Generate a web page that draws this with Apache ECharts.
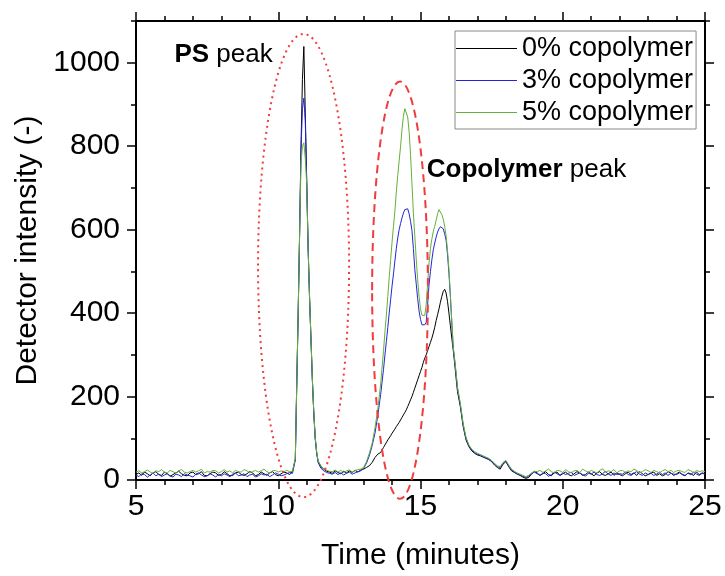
<!DOCTYPE html>
<html>
<head>
<meta charset="utf-8">
<script src="https://cdn.jsdelivr.net/npm/echarts@6/dist/echarts.min.js"></script>
<style>html,body{margin:0;padding:0;background:#fff}#chart{width:725px;height:576px}</style>
</head>
<body>
<div id="chart"></div>
<script>
// ---- data (time in minutes, detector intensity) ----
const times = [
  5,5.1,5.2,5.3,5.4,5.5,5.6,5.7,5.8,5.9,6,6.1,6.2,6.3,6.4,6.5,6.6,6.7,6.8,6.9,
  7,7.1,7.2,7.3,7.4,7.5,7.6,7.7,7.8,7.9,8,8.1,8.2,8.3,8.4,8.5,8.6,8.7,8.8,8.9,
  9,9.1,9.2,9.3,9.4,9.5,9.6,9.7,9.8,9.9,10,10.1,10.2,10.3,10.4,10.5,
  10.55,10.6,10.65,10.7,10.75,10.8,10.85,10.9,10.95,11,11.05,11.1,11.15,11.2,11.25,11.3,11.35,11.4,
  11.5,11.6,11.7,11.8,11.9,12,12.1,12.2,12.3,12.4,12.5,12.6,12.7,12.8,12.9,13,13.1,13.2,13.3,13.4,13.5,13.6,13.7,
  13.75,13.8,13.85,13.9,13.95,14,14.05,14.1,14.15,14.2,14.25,14.3,14.35,14.4,14.45,14.5,14.55,14.6,14.65,14.7,
  14.75,14.8,14.85,14.9,14.95,15,15.05,15.1,15.15,15.2,15.25,15.3,15.35,15.4,15.45,15.5,15.55,15.6,15.65,15.7,
  15.75,15.8,15.85,15.9,15.95,16,16.05,16.1,16.15,16.2,16.25,16.3,
  16.4,16.5,16.6,16.7,16.8,16.9,17,17.1,17.2,17.3,17.4,17.5,17.6,17.7,17.8,17.9,18,18.1,18.2,18.3,
  18.4,18.5,18.6,18.7,18.8,18.9,19,
  19.1,19.2,19.3,19.4,19.5,19.6,19.7,19.8,19.9,20,20.1,20.2,20.3,20.4,20.5,20.6,20.7,20.8,20.9,21,
  21.1,21.2,21.3,21.4,21.5,21.6,21.7,21.8,21.9,22,22.1,22.2,22.3,22.4,22.5,22.6,22.7,22.8,22.9,23,
  23.1,23.2,23.3,23.4,23.5,23.6,23.7,23.8,23.9,24,24.1,24.2,24.3,24.4,24.5,24.6,24.7,24.8,24.9,25
];
const copolymer0 = [
  13,17,11,19,15,10,17,20,13,11,19,15,9,13,17,21,15,11,10,17,
  19,13,15,20,11,10,15,19,17,11,13,20,15,10,11,17,19,13,11,15,
  20,17,10,13,19,15,11,17,20,13,10,15,19,17,13,20,
  22,50,230,400,590,800,960,1039,880,720,560,440,340,240,160,100,66,45,
  32,26,21,19,16,22,18,15,21,17,22,18,23,19,24,26,30,34,42,54,62,66,78,
  84,88,96,100,106,112,116,122,128,132,138,144,150,156,162,168,176,184,192,200,
  210,220,230,240,250,260,270,282,292,300,310,320,330,340,352,366,382,396,410,426,
  440,452,457,448,428,400,370,340,312,280,245,212,
  176,128,96,80,70,64,60,58,55,52,49,44,36,30,26,38,44,32,22,18,
  14,11,7,4,6,14,20,
  17,11,15,20,13,10,17,19,11,15,19,13,10,15,20,17,11,13,19,15,
  10,17,20,13,11,15,19,11,17,13,10,15,19,13,17,11,20,15,10,13,
  17,19,11,15,10,13,20,17,11,15,19,13,10,17,15,11,19,13,17,15
];
const copolymer3 = [
  12,8,15,13,7,12,17,10,14,8,12,15,10,7,14,12,8,15,12,10,
  7,14,17,12,8,10,15,12,7,14,10,15,12,8,14,17,10,12,15,8,
  12,14,7,10,15,12,14,8,12,17,14,10,12,15,18,16,
  20,48,225,395,585,790,890,915,860,715,555,435,338,238,158,98,64,42,
  28,22,18,16,14,18,13,17,12,16,19,14,17,20,22,28,40,58,82,112,155,205,265,
  300,332,365,400,432,465,494,525,555,580,600,615,628,640,648,652,650,638,620,598,
  555,505,470,435,405,385,372,370,372,378,420,468,500,528,552,568,582,594,602,607,
  608,602,590,575,540,495,440,378,318,288,255,220,
  180,132,100,82,72,66,62,60,56,53,50,45,38,32,30,40,46,34,24,19,
  15,12,9,6,9,15,19,
  15,11,17,15,9,13,19,15,11,17,13,16,19,11,14,17,13,9,16,14,
  19,13,11,15,21,14,11,17,13,15,14,19,13,11,16,20,14,11,17,13,
  16,11,14,19,13,17,11,16,14,13,17,14,11,16,13,19,14,11,16,14
];
const copolymer5 = [
  19,22,17,20,24,19,16,22,20,25,19,17,23,20,16,22,25,19,17,20,
  23,19,22,26,17,20,19,23,22,17,20,25,19,22,17,23,20,19,25,22,
  17,20,23,19,22,26,20,17,22,23,19,22,20,23,20,21,
  24,52,228,398,585,760,800,808,770,710,555,438,340,242,162,102,68,46,
  34,27,23,21,20,24,19,23,18,22,24,19,23,25,26,30,44,64,88,125,170,230,310,
  355,395,440,485,528,570,608,645,690,730,765,800,840,872,890,888,870,835,780,710,
  640,585,530,480,440,410,395,392,394,420,470,520,555,578,596,608,622,638,648,645,
  636,625,608,585,550,505,445,380,320,290,258,222,
  184,135,102,84,74,68,64,61,58,55,52,47,40,34,32,42,47,36,26,21,
  17,14,11,8,11,17,21,
  20,23,18,22,26,20,17,23,22,18,25,20,17,22,23,18,26,22,18,23,
  20,17,23,27,18,22,20,25,17,22,23,18,22,20,26,23,17,20,25,22,
  18,23,20,17,22,25,20,23,18,22,23,20,18,25,22,17,23,20,22,20
];
const seriesNames = ['0% copolymer', '3% copolymer', '5% copolymer'];
const xTickLabels = [5, 10, 15, 20, 25];
const yMajorTicks = [0, 200, 400, 600, 800, 1000];
const yMinorTicks = [100, 300, 500, 700, 900, 1100];

// ---- chart ----
const FONT = 'Liberation Sans, Arial, sans-serif';
const chart = echarts.init(document.getElementById('chart'), null, {renderer: 'canvas'});
const pairs = vals => times.map((t, i) => [t, vals[i]]);
const colors = ['#000000', '#2424dc', '#62b236'];
const allValues = [copolymer0, copolymer3, copolymer5];

function yAx(pos, major, labels) {
  return {
    type: 'value', min: 0, max: 1100, position: pos,
    axisLine: {show: major, lineStyle: {color: '#000', width: 2}},
    axisTick: {show: true, inside: false, length: major ? 9 : 5,
      customValues: major ? yMajorTicks : yMinorTicks,
      lineStyle: {color: '#000', width: 1.5}},
    axisLabel: {show: labels, customValues: yMajorTicks, fontSize: 30, color: '#000', fontFamily: FONT, margin: 16,
      formatter: v => String(v)},
    splitLine: {show: false},
    name: labels ? 'Detector intensity (-)' : '',
    nameLocation: 'middle', nameGap: 81, nameRotate: 90,
    nameTextStyle: {fontSize: 30, color: '#000', fontFamily: FONT}
  };
}
function xAx(pos, labels) {
  return {
    type: 'value', min: 5, max: 25, interval: 5, position: pos,
    axisLine: {show: true, onZero: false, lineStyle: {color: '#000', width: 2}},
    axisTick: {show: true, inside: false, length: 9, lineStyle: {color: '#000', width: 1.5}},
    minorTick: {show: true, splitNumber: 5, length: 5, lineStyle: {color: '#000', width: 1.5}},
    axisLabel: {show: labels, fontSize: 30, color: '#000', fontFamily: FONT, margin: 12,
      formatter: v => (xTickLabels.indexOf(v) >= 0 ? String(v) : '')},
    splitLine: {show: false}, minorSplitLine: {show: false},
    name: labels ? 'Time (minutes)' : '',
    nameLocation: 'middle', nameGap: 61,
    nameTextStyle: {fontSize: 30, color: '#000', fontFamily: FONT}
  };
}

chart.setOption({
  animation: false,
  backgroundColor: '#fff',
  grid: {left: 136, right: 20, top: 21, bottom: 95, containLabel: false},
  xAxis: [xAx('bottom', true), xAx('top', false)],
  yAxis: [yAx('left', true, true), yAx('left', false, false), yAx('right', true, false), yAx('right', false, false)],
  legend: {
    data: seriesNames, orient: 'vertical', left: 455, top: 31,
    icon: 'rect', itemWidth: 61, itemHeight: 1, itemGap: 5,
    borderColor: '#8a8a8a', borderWidth: 1, backgroundColor: '#fff',
    padding: [4, 3, 3, 1],
    textStyle: {fontSize: 27, color: '#000', fontFamily: FONT, lineHeight: 27},
    selectedMode: false
  },
  series: seriesNames.map((n, k) => ({
    name: n, type: 'line', xAxisIndex: 0, yAxisIndex: 0,
    data: pairs(allValues[k]), showSymbol: false, symbol: 'none',
    color: colors[k], lineStyle: {color: colors[k], width: 1},
    z: 2 + k, silent: true
  }))
});

// ---- annotations, anchored in data coordinates ----
const px = (t, v) => chart.convertToPixel({xAxisIndex: 0, yAxisIndex: 0}, [t, v]);
function ellipse(t, v, rt, rv, dash) {
  const c = px(t, v), e = px(t + rt, v + rv);
  return {type: 'ellipse', z: 50,
    shape: {cx: c[0], cy: c[1], rx: Math.abs(e[0] - c[0]), ry: Math.abs(c[1] - e[1])},
    style: {fill: 'none', stroke: '#f03c3c', lineWidth: 2, lineDash: dash}};
}
function label(t, v, txt) {
  const p = px(t, v);
  return {type: 'text', z: 60, x: p[0], y: p[1],
    style: {text: txt, fill: '#000', fontSize: 26, fontFamily: FONT, verticalAlign: 'middle', align: 'left',
      rich: {b: {fontWeight: 'bold', fontSize: 26, fontFamily: FONT}}}};
}
chart.setOption({graphic: [
  ellipse(10.89, 514, 1.6, 555, [2, 4]),
  ellipse(14.28, 455, 0.98, 500, [8, 5]),
  label(6.35, 1018, '{b|PS} peak'),
  label(15.22, 744, '{b|Copolymer} peak')
]});
</script>
</body>
</html>
